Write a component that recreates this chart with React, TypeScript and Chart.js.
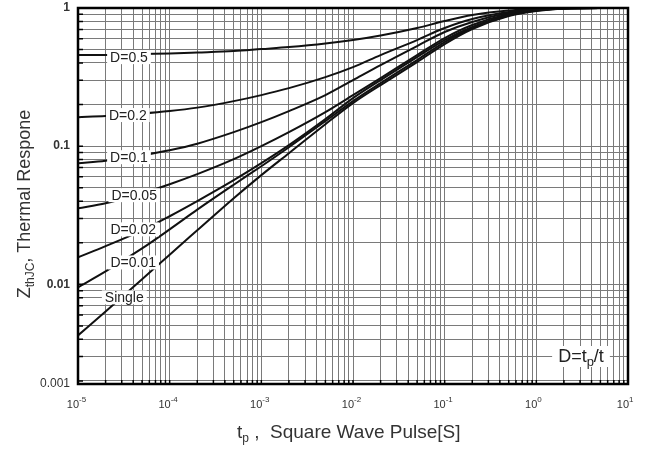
import React, { useEffect, useRef } from "react";
import { Chart, registerables } from "chart.js";

Chart.register(...registerables);

// ---------- data ----------
const pulseWidths = [1e-5, 2e-5, 5e-5, 1e-4, 2e-4, 5e-4, 1e-3, 2e-3, 5e-3, 1e-2, 2e-2, 5e-2, 0.1, 0.2, 0.5, 1, 2, 5, 10];

const zD05 = [0.4565, 0.4565, 0.4642, 0.4681, 0.476, 0.488, 0.5046, 0.5217, 0.553, 0.5861, 0.6319, 0.7164, 0.8051, 0.8898, 0.9591, 0.9835, 1, 1, 1];
const zD02 = [0.1622, 0.165, 0.172, 0.1794, 0.1901, 0.2118, 0.2342, 0.2631, 0.3162, 0.3736, 0.4565, 0.5861, 0.7164, 0.8322, 0.9355, 0.9753, 0.992, 1, 1];
const zD01 = [0.0753, 0.0785, 0.086, 0.0935, 0.1042, 0.1263, 0.1492, 0.1794, 0.2342, 0.3008, 0.3863, 0.5305, 0.67, 0.7918, 0.92, 0.9672, 0.992, 1, 1];
const zD005 = [0.0355, 0.0386, 0.0456, 0.053, 0.0627, 0.0805, 0.1, 0.1263, 0.1764, 0.2342, 0.311, 0.4565, 0.606, 0.7532, 0.9048, 0.9672, 0.992, 1, 1];
const zD002 = [0.0157, 0.0189, 0.0246, 0.0311, 0.04, 0.0567, 0.0753, 0.1017, 0.1569, 0.2227, 0.3008, 0.4415, 0.5861, 0.7285, 0.8898, 0.9591, 0.992, 1, 1];
const zD001 = [0.00951, 0.0124, 0.0182, 0.025, 0.0347, 0.0526, 0.0716, 0.0983, 0.1517, 0.2118, 0.2861, 0.42, 0.567, 0.7164, 0.8825, 0.9591, 0.992, 1, 1];
const zSingle = [0.00427, 0.00637, 0.01087, 0.0164, 0.0246, 0.042, 0.0617, 0.089, 0.1443, 0.2049, 0.2767, 0.4062, 0.5484, 0.7046, 0.8751, 0.9512, 0.992, 1, 1];

const seriesLabels = ["D=0.5", "D=0.2", "D=0.1", "D=0.05", "D=0.02", "D=0.01", "Single"];
const seriesValues = [zD05, zD02, zD01, zD005, zD002, zD001, zSingle];

const xDecades = [1e-5, 1e-4, 1e-3, 1e-2, 1e-1, 1, 10];
const xExponents = ["-5", "-4", "-3", "-2", "-1", "0", "1"];

const yMin = 0.0019;
const yMax = 1;
const yTickValues = [0.0019, 0.01, 0.1, 1];
const yTickLabels = ["0.001", "0.01", "0.1", "1"];

// ---------- annotation anchors (data units) ----------
const labelT = [3.6e-5, 3.5e-5, 3.6e-5, 4.1e-5, 4e-5, 4e-5, 3.2e-5];
const labelZ = [0.441, 0.168, 0.0832, 0.0442, 0.025, 0.0144, 0.00805];

// ---------- style ----------
const FONT = "'Liberation Sans', Arial, Helvetica, sans-serif";
const TEXT = "#333";
const GRID = "#7a7a7a";

// grid positions (1..9 per decade)
const xGrid: number[] = [];
for (let i = 0; i < xDecades.length - 1; i++) {
  for (let k = 1; k <= 9; k++) xGrid.push(+(xDecades[i] * k).toPrecision(6));
}
xGrid.push(xDecades[xDecades.length - 1]);

const yGrid: number[] = [yMin];
[0.001, 0.01, 0.1].forEach((d) => {
  for (let k = 1; k <= 9; k++) {
    const v = +(d * k).toPrecision(6);
    if (v > yMin) yGrid.push(v);
  }
});
yGrid.push(1);

const overlay = {
  id: "overlay",
  afterDatasetsDraw(chart: any) {
    const { ctx, chartArea, scales } = chart;
    const xs = scales.x;
    const ys = scales.y;
    ctx.save();
    ctx.font = `14px ${FONT}`;
    ctx.textAlign = "center";
    ctx.textBaseline = "alphabetic";
    seriesLabels.forEach((lab, i) => {
      const cx = xs.getPixelForValue(labelT[i]);
      const cy = ys.getPixelForValue(labelZ[i]);
      const w = ctx.measureText(lab).width;
      ctx.fillStyle = "#fff";
      ctx.fillRect(cx - w / 2 - 3, cy - 7, w + 6, 14);
      ctx.fillStyle = "#222";
      ctx.fillText(lab, cx, cy + 5);
    });

    // D = tp / t legend
    const bx = chartArea.right - 47;
    const by = chartArea.bottom - 28;
    const parts = [
      { t: "D=t", f: `18px ${FONT}`, dy: 0 },
      { t: "p", f: `13px ${FONT}`, dy: 4 },
      { t: "/t", f: `18px ${FONT}`, dy: 0 },
    ];
    let total = 0;
    parts.forEach((p) => {
      ctx.font = p.f;
      total += ctx.measureText(p.t).width;
    });
    ctx.fillStyle = "#fff";
    ctx.fillRect(bx - total / 2 - 6, by - 10, total + 12, 21);
    ctx.fillStyle = "#222";
    ctx.textAlign = "left";
    let px = bx - total / 2;
    parts.forEach((p) => {
      ctx.font = p.f;
      ctx.fillText(p.t, px, by + 6 + p.dy);
      px += ctx.measureText(p.t).width;
    });
    ctx.restore();
  },
  afterDraw(chart: any) {
    const { ctx, chartArea, scales } = chart;
    const xs = scales.x;
    const ys = scales.y;
    const { left, right, top, bottom } = chartArea;
    ctx.save();
    // inward ticks
    ctx.strokeStyle = "#000";
    ctx.lineWidth = 1.5;
    ctx.beginPath();
    xGrid.forEach((v) => {
      const p = xs.getPixelForValue(v);
      ctx.moveTo(p, bottom);
      ctx.lineTo(p, bottom - 4);
    });
    yGrid.forEach((v) => {
      const p = ys.getPixelForValue(v);
      ctx.moveTo(left, p);
      ctx.lineTo(left + 5, p);
    });
    ctx.stroke();
    // frame
    ctx.lineWidth = 2.5;
    ctx.strokeRect(left, top, right - left, bottom - top);

    // x tick labels 10^n
    ctx.fillStyle = TEXT;
    ctx.textBaseline = "alphabetic";
    xDecades.forEach((v, i) => {
      const p = xs.getPixelForValue(v);
      ctx.font = `11px ${FONT}`;
      ctx.textAlign = "right";
      ctx.fillText("10", p + 1, bottom + 24);
      ctx.font = `8px ${FONT}`;
      ctx.textAlign = "left";
      ctx.fillText(xExponents[i], p + 1, bottom + 18);
    });

    // x title
    const xt = [
      { t: "t", f: `19px ${FONT}`, dy: 0 },
      { t: "p", f: `12px ${FONT}`, dy: 4 },
      { t: " ,  Square Wave Pulse[S]", f: `19px ${FONT}`, dy: 0 },
    ];
    let px = 237;
    ctx.textAlign = "left";
    xt.forEach((p) => {
      ctx.font = p.f;
      ctx.fillText(p.t, px, 438 + p.dy);
      px += ctx.measureText(p.t).width;
    });

    // y title (rotated)
    const yt = [
      { t: "Z", f: `18px ${FONT}`, dy: 0 },
      { t: "thJC", f: `12px ${FONT}`, dy: 4 },
      { t: ", Thermal Respone", f: `18px ${FONT}`, dy: 0 },
    ];
    let total = 0;
    yt.forEach((p) => {
      ctx.font = p.f;
      total += ctx.measureText(p.t).width;
    });
    ctx.translate(30, 204);
    ctx.rotate(-Math.PI / 2);
    let qx = -total / 2;
    yt.forEach((p) => {
      ctx.font = p.f;
      ctx.fillText(p.t, qx, p.dy);
      qx += ctx.measureText(p.t).width;
    });
    ctx.restore();
  },
};

export default function App() {
  const ref = useRef<HTMLCanvasElement>(null);
  useEffect(() => {
    if (!ref.current) return;
    const chart = new Chart(ref.current, {
      type: "line",
      data: {
        datasets: seriesValues.map((vals, i) => ({
          label: seriesLabels[i],
          data: pulseWidths.map((x, j) => ({ x, y: vals[j] })),
          borderColor: "#111",
          borderWidth: 2,
          pointRadius: 0,
          fill: false,
          cubicInterpolationMode: "monotone" as const,
        })),
      },
      options: {
        animation: false,
        responsive: false,
        events: [],
        layout: { padding: { left: 0, right: 20, top: 8, bottom: 0 } },
        plugins: { legend: { display: false }, tooltip: { enabled: false } },
        scales: {
          x: {
            type: "logarithmic",
            min: 1e-5,
            max: 10,
            afterBuildTicks: (s: any) => {
              s.ticks = xGrid.map((v) => ({ value: v }));
            },
            afterFit: (s: any) => {
              s.height = 70;
              s.paddingLeft = 0;
              s.paddingRight = 0;
            },
            ticks: { display: false, autoSkip: false },
            grid: { color: GRID, lineWidth: 1, drawTicks: false },
            border: { display: false },
          },
          y: {
            type: "logarithmic",
            min: yMin,
            max: yMax,
            afterBuildTicks: (s: any) => {
              s.ticks = yGrid.map((v) => ({ value: v }));
            },
            afterFit: (s: any) => {
              s.width = 78;
              s.paddingTop = 0;
              s.paddingBottom = 0;
            },
            ticks: {
              autoSkip: false,
              padding: 8,
              color: TEXT,
              font: (c: any) => ({
                family: FONT,
                size: 12,
                weight: c.tick && Math.abs(c.tick.value - yMin) < 1e-9 ? "normal" : "bold",
              }),
              callback: (v: any) => {
                const idx = yTickValues.findIndex((t) => Math.abs(t - Number(v)) < t * 1e-6);
                return idx >= 0 ? yTickLabels[idx] : "";
              },
            },
            grid: { color: GRID, lineWidth: 1, drawTicks: false },
            border: { display: false },
          },
        },
      },
      plugins: [overlay],
    } as any);
    return () => chart.destroy();
  }, []);
  return (
    <div style={{ position: "absolute", left: 0, top: 0, width: 648, height: 454, background: "#fff" }}>
      <canvas ref={ref} width={648} height={454} style={{ display: "block", width: 648, height: 454 }} />
    </div>
  );
}
